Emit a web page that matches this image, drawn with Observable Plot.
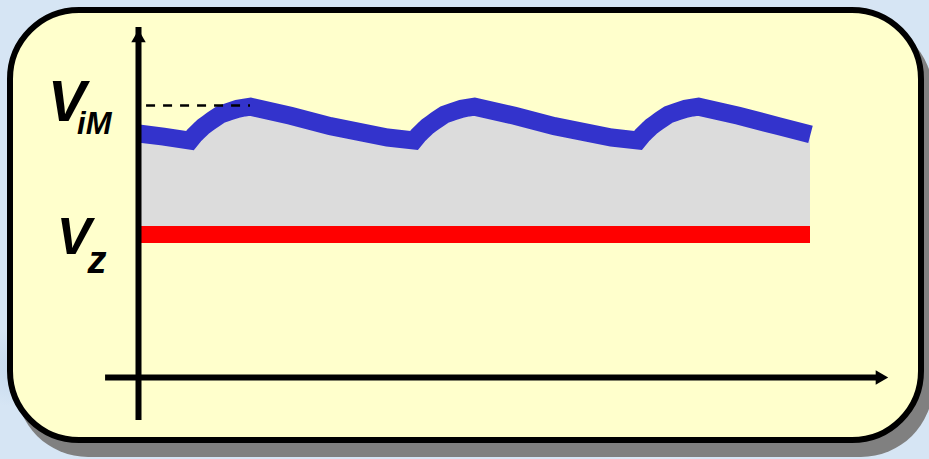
<!DOCTYPE html>
<html><head><meta charset="utf-8">
<script src="https://cdn.jsdelivr.net/npm/d3@7"></script>
<script src="https://cdn.jsdelivr.net/npm/@observablehq/plot@0.6"></script>
<style>
html,body{margin:0;padding:0;width:929px;height:459px;overflow:hidden;}
body{position:relative;background:#d6e5f4;
  background-image:
   radial-gradient(ellipse 60px 25px at 20% 30%, rgba(255,255,255,0.45), transparent),
   radial-gradient(ellipse 80px 30px at 70% 95%, rgba(255,255,255,0.4), transparent),
   radial-gradient(ellipse 50px 40px at 2% 80%, rgba(180,205,230,0.5), transparent),
   radial-gradient(ellipse 70px 30px at 98% 20%, rgba(255,255,255,0.4), transparent);}
#card{position:absolute;left:7px;top:7px;width:905px;height:424px;border:6px solid #000;border-radius:72px;background:#ffffcc;box-shadow:9px 14px 0 #808080;}
#chart{position:absolute;left:0;top:0;}
</style></head><body>
<div id="card"></div><div id="chart"></div>
<script>
// ripple voltage (time in ms, voltage in V)
const time    = [0.00, 1.12,
  2.30, 2.48, 2.63, 2.77, 2.90, 3.08, 3.30, 3.48, 3.66, 4.02, 4.42, 4.73, 5.00, 6.79, 8.57, 11.12,
  12.30, 12.48, 12.63, 12.77, 12.90, 13.08, 13.30, 13.48, 13.66, 14.02, 14.42, 14.73, 15.00, 16.79, 18.57, 21.12,
  22.30, 22.48, 22.63, 22.77, 22.90, 23.08, 23.30, 23.48, 23.66, 24.02, 24.42, 24.73, 25.00, 26.79, 28.57, 30.00];
const voltage = [17.06, 16.85,
  16.57, 16.92, 17.16, 17.36, 17.56, 17.76, 18.01, 18.20, 18.39, 18.59, 18.79, 18.88, 18.94, 18.30, 17.58, 16.78,
  16.57, 16.92, 17.16, 17.36, 17.56, 17.76, 18.01, 18.20, 18.39, 18.59, 18.79, 18.88, 18.94, 18.30, 17.58, 16.78,
  16.57, 16.92, 17.16, 17.36, 17.56, 17.76, 18.01, 18.20, 18.39, 18.59, 18.79, 18.88, 18.94, 18.30, 17.58, 17.00];
const Vz = 10;          // zener voltage
const ViM = 19.02;      // peak input voltage (dashed level)
const peakTime = 5.00;  // time of the first peak
const tRange = [0, 30];
const yAxisExtent = [-2.31, 24.48];
const xAxisExtent = [-1.47, 33.57];
const labelMain = ["V", "V"];
const labelSub = ["iM", "z"];

const ripple = time.map((t, i) => ({t, v: voltage[i], vz: Vz}));

const fontFamily = "'Liberation Sans', Arial, sans-serif";
const label = (key, v, dx, dy) => Plot.text([{t: 0, v, s: key}], {
  x: "t", y: "v", text: "s", fontWeight: "bold", fontStyle: "italic", fontSize: 50,
  fontFamily, fill: "#000", textAnchor: "end", lineAnchor: "bottom", dx, dy
});

const plot = Plot.plot({
  width: 929, height: 459, margin: 0,
  x: {domain: tRange, range: [138, 810], axis: null},
  y: {domain: [0, 20], range: [377, 91], axis: null},
  style: {background: "transparent", overflow: "visible"},
  marks: [
    Plot.areaY(ripple, {x: "t", y1: "vz", y2: "v", fill: "#dcdcdc"}),
    Plot.ruleY([Vz], {x1: tRange[0], x2: tRange[1], stroke: "#ff0000", strokeWidth: 17}),
    Plot.line(ripple, {x: "t", y: "v", stroke: "#3333cc", strokeWidth: 18,
      strokeLinejoin: "miter", strokeMiterlimit: 4, strokeLinecap: "butt"}),
    Plot.ruleY([ViM], {x1: 0.36, x2: peakTime, stroke: "#000", strokeWidth: 2.6, strokeDasharray: "9,8"}),
    // y axis with arrow
    Plot.ruleX([0], {y1: yAxisExtent[0], y2: yAxisExtent[1], stroke: "#000", strokeWidth: 6, insetTop: 10}),
    Plot.dot([{t: 0, v: yAxisExtent[1]}], {x: "t", y: "v", symbol: "triangle2", r: 6.9, fill: "#000", dy: 10.6}),
    // x axis with arrow
    Plot.ruleY([0], {x1: xAxisExtent[0], x2: xAxisExtent[1], stroke: "#000", strokeWidth: 6, insetRight: 10}),
    Plot.dot([{t: xAxisExtent[1], v: 0}], {x: "t", y: "v", symbol: "triangle2", r: 6.9, fill: "#000", rotate: 90, dx: -10.6}),
    // labels
    label("L0", ViM, -27, 15),
    label("L1", Vz, -32, 19)
  ]
});

// turn the label keys into V with a subscript
const subSpec = {
  L0: {i: 0, main: 57, sub: 31, dx: -9, dy: 13},
  L1: {i: 1, main: 52, sub: 38, dx: -4, dy: 19}
};
d3.select(plot).selectAll("text").each(function() {
  const s = subSpec[this.textContent];
  if (!s) return;
  const el = d3.select(this);
  el.text(null);
  el.append("tspan").attr("font-size", s.main).text(labelMain[s.i]);
  el.append("tspan").attr("font-size", s.sub).attr("dx", s.dx).attr("dy", s.dy).text(labelSub[s.i]);
});
document.getElementById("chart").appendChild(plot);
</script>
</body></html>
